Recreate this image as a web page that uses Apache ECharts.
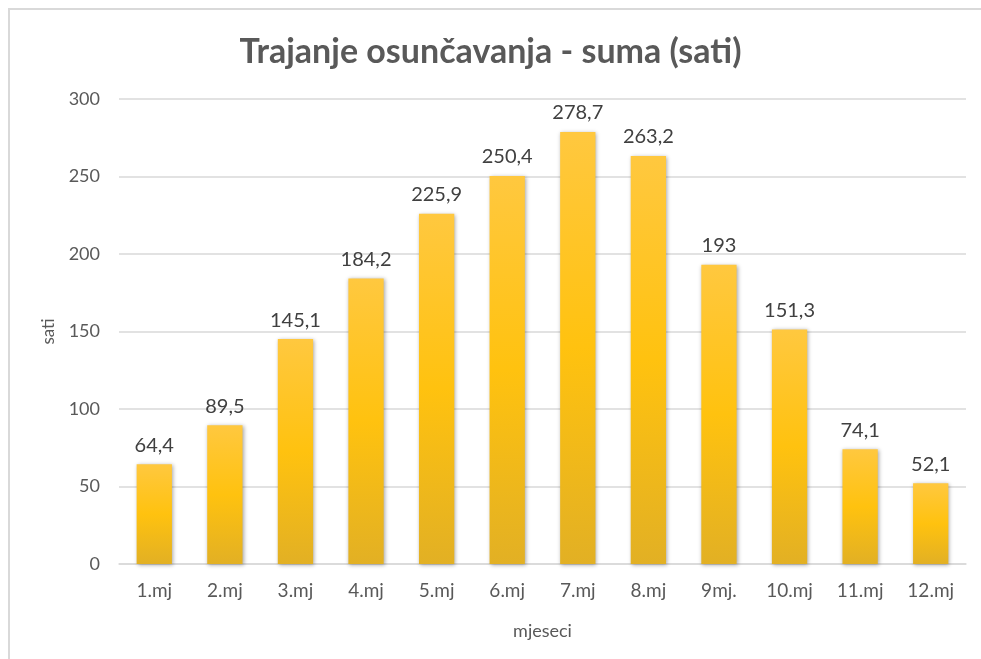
<!DOCTYPE html>
<html>
<head>
<meta charset="utf-8">
<script src="https://cdn.jsdelivr.net/npm/echarts@6/dist/echarts.min.js"></script>
<style>
  html, body { margin:0; padding:0; background:#fff; }
  #frame { position:absolute; left:8px; top:8px; width:990px; height:670px;
           border-left:2px solid #d9d9d9; border-top:2px solid #d9d9d9; box-sizing:border-box; }
  #chart { position:absolute; left:0; top:0; width:981px; height:659px; }
</style>
</head>
<body>
<div id="frame"></div>
<div id="chart"></div>
<script>
// mjeseci (kategorije)
var months = ['1.mj', '2.mj', '3.mj', '4.mj', '5.mj', '6.mj', '7.mj', '8.mj', '9mj.', '10.mj', '11.mj', '12.mj'];
// trajanje osunčavanja - sati
var hours = [64.4, 89.5, 145.1, 184.2, 225.9, 250.4, 278.7, 263.2, 193, 151.3, 74.1, 52.1];
var yTicks = [0, 50, 100, 150, 200, 250, 300];

var FONT = 'Lato, "Open Sans", sans-serif';
var myChart = echarts.init(document.getElementById('chart'));
var option = {
    backgroundColor: 'transparent',
    title: {
        text: 'Trajanje osunčavanja - suma (sati)',
        left: 'center',
        top: 30,
        textStyle: { fontFamily: FONT, fontSize: 34, fontWeight: 'bold', color: '#595959' }
    },
    grid: { left: 119, right: 15, top: 99, bottom: 95 },
    xAxis: {
        type: 'category',
        data: months,
        name: 'mjeseci',
        nameLocation: 'middle',
        nameGap: 58,
        nameTextStyle: { fontFamily: FONT, fontSize: 18, color: '#595959' },
        axisLine: { lineStyle: { color: '#d9d9d9', width: 1.5 } },
        axisTick: { show: false },
        axisLabel: { fontFamily: FONT, fontSize: 19, color: '#595959', margin: 17 }
    },
    yAxis: {
        type: 'value',
        min: yTicks[0],
        max: yTicks[yTicks.length - 1],
        interval: 50,
        name: 'sati',
        nameLocation: 'middle',
        nameGap: 62,
        nameTextStyle: { fontFamily: FONT, fontSize: 17, color: '#595959' },
        axisLine: { show: false },
        axisTick: { show: false },
        axisLabel: { fontFamily: FONT, fontSize: 18, color: '#595959', margin: 19 },
        splitLine: { lineStyle: { color: '#d9d9d9', width: 1.5 } }
    },
    series: [{
        type: 'bar',
        data: hours,
        barWidth: '50%',
        itemStyle: {
            color: new echarts.graphic.LinearGradient(0, 0, 0, 1, [
                { offset: 0, color: '#FFC83F' },
                { offset: 0.5, color: '#FFC20F' },
                { offset: 1, color: '#E2B024' }
            ]),
            shadowBlur: 4,
            shadowOffsetX: 1,
            shadowOffsetY: 1,
            shadowColor: 'rgba(0,0,0,0.35)'
        },
        label: {
            show: true,
            position: 'top',
            distance: 9,
            fontFamily: FONT,
            fontSize: 20,
            color: '#404040',
            formatter: function (p) { return String(p.value).replace('.', ','); }
        }
    }]
};
myChart.setOption(option);
</script>
</body>
</html>
